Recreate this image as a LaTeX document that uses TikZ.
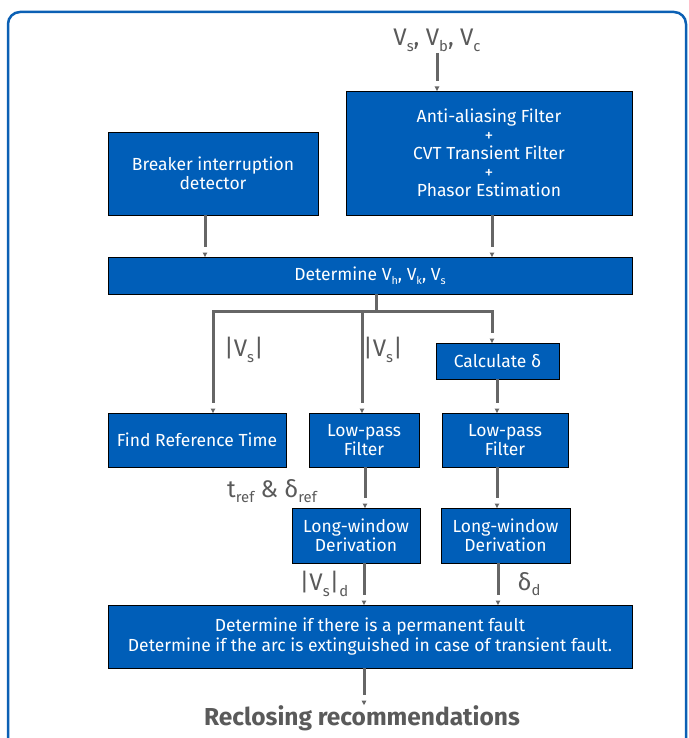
\documentclass[tikz,border=0pt]{standalone}
\usepackage{fontspec}
\setmainfont{Fira Sans}
\usetikzlibrary{decorations.markings}
\definecolor{boxblue}{HTML}{005EB8}
\definecolor{framebl}{HTML}{0B60B4}
\definecolor{gc}{HTML}{666666}
\definecolor{lab}{HTML}{5A5A5A}
\newcommand\lo[1]{\raisebox{-0.45ex}{\scalebox{0.62}{#1}}}
\tikzset{
  box/.style={draw=black, line width=0.8pt, fill=boxblue, text=white, align=center,
    inner sep=0pt, outer sep=0pt, font=\fontsize{17.5}{19.5}\selectfont},
  lbl/.style={text=lab, inner sep=0pt, font=\fontsize{24}{26}\selectfont},
  plainline/.style={draw=gc, line width=3pt},
  conn/.style={draw=gc, line width=3pt, shorten >=10pt,
    postaction={decorate, decoration={markings,
      mark=at position 1 with {\fill[gc] (0,0) -- (-4.5pt,2.4pt) -- (-4.5pt,-2.4pt) -- cycle;}}}}
}
\begin{document}
\begin{tikzpicture}[x=1pt,y=-1pt]
\useasboundingbox (0,0) rectangle (688,738);
\begin{scope}
\clip (0,0) rectangle (688,738);
\draw[framebl, line width=2.5pt, rounded corners=12pt] (8,12) rectangle (686,770);
\end{scope}

% boxes
\node[box, minimum width=286pt, minimum height=124pt] (aa) at (489,153)
  {Anti-aliasing Filter\\[-1pt]+\\[-1pt]CVT Transient Filter\\[-1pt]+\\[-1pt]Phasor Estimation};
\node[box, minimum width=210pt, minimum height=83pt] (brk) at (213,173.5)
  {Breaker interruption\\detector};
\node[box, minimum width=524pt, minimum height=37pt] (det) at (370,275.5)
  {Determine V\lo{h}, V\lo{k}, V\lo{s}};
\node[box, minimum width=123pt, minimum height=36pt] (calc) at (497.5,361)
  {Calculate δ};
\node[box, minimum width=178pt, minimum height=54pt] (find) at (197,440)
  {Find Reference Time};
\node[box, minimum width=110pt, minimum height=54pt] (lp1) at (364,440)
  {Low-pass\\Filter};
\node[box, minimum width=126pt, minimum height=54pt] (lp2) at (505,440)
  {Low-pass\\Filter};
\node[box, minimum width=128pt, minimum height=55pt] (lw1) at (356,535.5)
  {Long-window\\Derivation};
\node[box, minimum width=129pt, minimum height=55pt] (lw2) at (505.5,535.5)
  {Long-window\\Derivation};
\node[box, minimum width=524pt, minimum height=63pt] (fin) at (370,636.5)
  {Determine if there is a permanent fault\\Determine if the arc is extinguished in case of transient fault.};

% labels
\node[lbl] (inp) at (437,40) {V\lo{s}, V\lo{b}, V\lo{c}};
\node[lbl] (l1) at (244,350) {|V\lo{s}|};
\node[lbl] (l2) at (383,350) {|V\lo{s}|};
\node[lbl] (l3) at (272,491) {t\lo{ref} \& δ\lo{ref}};
\node[lbl] (l4) at (324,584) {|V\lo{s}|\lo{d}};
\node[lbl] (l5) at (529,584) {δ\lo{d}};
\node[text=lab, inner sep=0pt, font=\bfseries\fontsize{24.5}{26}\selectfont] (rec) at (362,718)
  {Reclosing recommendations};

% connectors
\coordinate (ci) at (437,53);
\draw[conn] (ci) -- (ci |- aa.north);
\coordinate (cb) at (205,0);
\draw[conn] (brk.south -| cb) -- (cb |- det.north);
\coordinate (ca) at (492,0);
\draw[conn] (aa.south -| ca) -- (ca |- det.north);
\coordinate (j) at (376,311);
\coordinate (b1) at (213,311);
\coordinate (b2) at (362,311);
\coordinate (b3) at (492,311);
\draw[plainline] (det.south -| j) -- (j);
\draw[conn] (j) -- (b1) -- (b1 |- find.north);
\draw[conn] (j) -- (b3) -- (b3 |- calc.north);
\draw[conn] (b2) -- (b2 |- lp1.north);
\coordinate (cc) at (497,0);
\draw[conn] (calc.south -| cc) -- (cc |- lp2.north);
\coordinate (m1) at (365,0);
\draw[conn] (lp1.south -| m1) -- (m1 |- lw1.north);
\draw[conn] (lp2.south -| cc) -- (cc |- lw2.north);
\coordinate (m2) at (364,0);
\coordinate (m3) at (498,0);
\draw[conn] (lw1.south -| m2) -- (m2 |- fin.north);
\draw[conn] (lw2.south -| m3) -- (m3 |- fin.north);
\draw[conn] (fin.south -| m2) -- (m2 |- rec.north);
\end{tikzpicture}
\end{document}
